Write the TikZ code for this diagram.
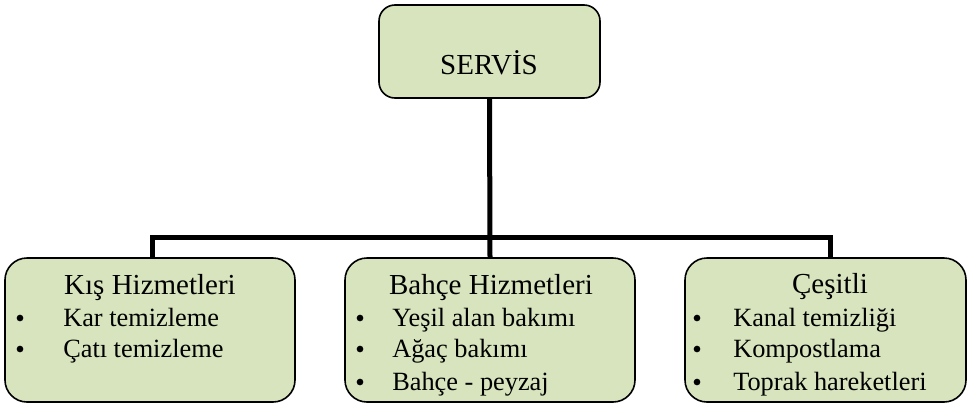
\documentclass[tikz,border=0pt]{standalone}
\usepackage{fontspec}
\setmainfont{Liberation Serif}
\definecolor{boxfill}{HTML}{D7E4BD}
\begin{document}
\begin{tikzpicture}[x=0.75pt,y=-0.75pt,
  box/.style={draw=black, line width=1.2pt, fill=boxfill, inner sep=0pt},
  bar/.style={line width=3.75pt, draw=black},
  title/.style={font=\fontsize{21.75pt}{26pt}\selectfont, anchor=base, inner sep=0pt},
  item/.style={font=\fontsize{19.75pt}{24pt}\selectfont, anchor=base west, inner sep=0pt},
  dot/.style={circle, fill=black, inner sep=0pt, minimum size=5pt}]
\useasboundingbox (0,0) rectangle (968,404);
% boxes
\node[box, rounded corners=12pt, minimum width=165.75pt, minimum height=69.75pt] (top) at (489.5,51.5) {};
\node[box, rounded corners=16.5pt, minimum width=217.5pt, minimum height=108pt] (left) at (150,330) {};
\node[box, rounded corners=16.5pt, minimum width=217.5pt, minimum height=108pt] (mid) at (490,330) {};
\node[box, rounded corners=16.5pt, minimum width=210.75pt, minimum height=108pt] (right) at (825.5,330) {};
% connectors
\coordinate (hub) at (490,237);
\draw[bar] ([xshift=1.5pt]left.north) |- (hub) -| ([xshift=3.4pt]right.north);
\draw[bar] (top.south) -- (mid.north);
% texts
\node[title] (servis) at (489,74) {SERVİS};
\node[title] (t1) at (150,294) {Kış Hizmetleri};
\node[title] (t2) at (491,294) {Bahçe Hizmetleri};
\node[title] (t3) at (830,293) {Çeşitli};
% left items
\node[dot] (d11) at (20,318) {};
\node[item] (i11) at (63,326) {Kar temizleme};
\node[dot] (d12) at (20,349) {};
\node[item] (i12) at (63,357) {Çatı temizleme};
% middle items
\node[dot] (d21) at (360,318) {};
\node[item] (i21) at (392,326) {Yeşil alan bakımı};
\node[dot] (d22) at (360,349) {};
\node[item] (i22) at (392,357) {Ağaç bakımı};
\node[dot] (d23) at (360,382) {};
\node[item] (i23) at (392,390) {Bahçe - peyzaj};
% right items
\node[dot] (d31) at (697,318) {};
\node[item] (i31) at (733,326) {Kanal temizliği};
\node[dot] (d32) at (697,349) {};
\node[item] (i32) at (733,357) {Kompostlama};
\node[dot] (d33) at (697,382) {};
\node[item] (i33) at (733,390) {Toprak hareketleri};
\end{tikzpicture}
\end{document}
